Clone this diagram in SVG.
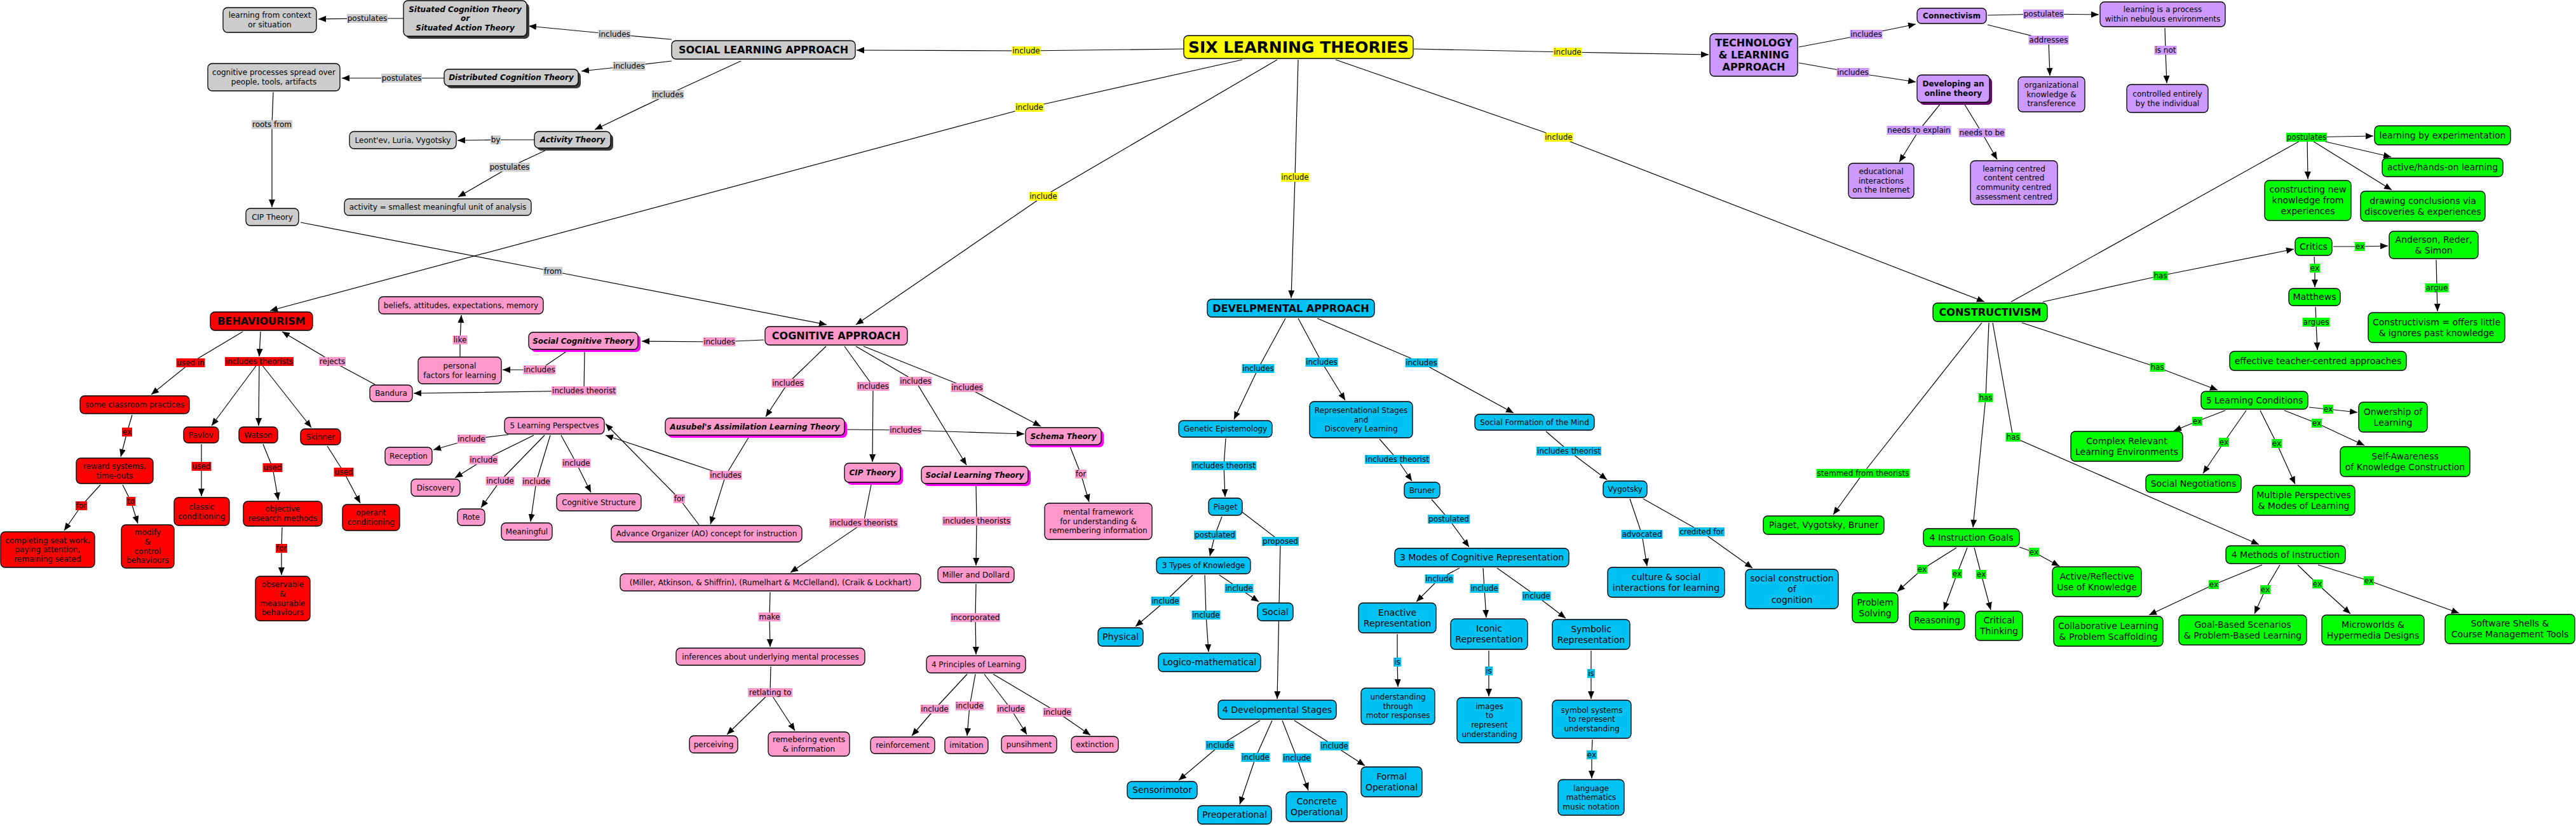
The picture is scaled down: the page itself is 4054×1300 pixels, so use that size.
<svg xmlns="http://www.w3.org/2000/svg" width="4054" height="1300" viewBox="0 0 4054 1300">
<defs>
<marker id="ar" viewBox="0 0 12 10" refX="12" refY="5" markerWidth="12" markerHeight="10" markerUnits="userSpaceOnUse" orient="auto"><path d="M0,0 L12,5 L0,10 z" fill="#000"/></marker>
<style>
text{font-family:"DejaVu Sans",Verdana,sans-serif;fill:#000;text-anchor:middle;font-size:12px}
.c path{fill:none;stroke:#000;stroke-width:1.2}
.c path.m{marker-end:url(#ar)}
.lb rect{stroke:none}
.node rect.b{stroke:#000;stroke-width:1.3}
.gy rect{fill:#cccccc}.yl rect{fill:#ffff00}.pu rect{fill:#cc99ff}.rd rect{fill:#ff0000}.pk rect{fill:#ff99cc}.bl rect{fill:#00c2f2}.gr rect{fill:#00ff00}
.node rect.sd{stroke:none}
.gy rect.sd{fill:#3a3a3a}.pu rect.sd{fill:#6a0a6a}.pk rect.sd{fill:#ff00ff}
.f14{font-size:14px}.b16{font-size:16px;font-weight:bold}.b12{font-weight:bold}.bi{font-weight:bold;font-style:italic}.b25{font-size:25px;font-weight:bold}
</style>
</defs>
<rect width="4054" height="1300" fill="#fff"/>
<g id="connectors" class="c">
<!-- grey -->
<path class="m" d="M635,29 L578,29 L501,30"/>
<path class="m" d="M1057,62 L967,54 L832,41"/>
<path class="m" d="M1057,96 L990,104 L915,112"/>
<path class="m" d="M1166,96 L1051,149 L936,204"/>
<path class="m" d="M699,123 L632,123 L538,123"/>
<path class="m" d="M430,145 L428,196 L428,326"/>
<path class="m" d="M841,220 L780,220 L720,221"/>
<path class="m" d="M862,235 L802,263 L721,310"/>
<path class="m" d="M473,350 L870,427 L1301,511"/>
<!-- yellow -->
<path class="m" d="M1863,77 L1615,80 L1348,79"/>
<path class="m" d="M1955,94 L1620,169 L425,489"/>
<path class="m" d="M2010,94 L1642,309 L1347,511"/>
<path class="m" d="M2225,77 L2467,82 L2689,86"/>
<path class="m" d="M2043,94 L2038,279 L2032,469"/>
<path class="m" d="M2102,94 L2453,216 L3123,475"/>
<!-- purple -->
<path class="m" d="M2831,74 L2937,54 L3015,38"/>
<path class="m" d="M2831,99 L2916,114 L3015,129"/>
<path class="m" d="M3128,24 L3216,22 L3303,23"/>
<path class="m" d="M3128,39 L3224,63 L3226,119"/>
<path class="m" d="M3407,44 L3408,79 L3410,131"/>
<path class="m" d="M3054,163 L3020,205 L2989,255"/>
<path class="m" d="M3091,163 L3119,209 L3143,251"/>
<!-- red -->
<path class="m" d="M382,522 L300,571 L238,621"/>
<path class="m" d="M410,522 L408,561"/>
<path class="m" d="M408,569 L333,670"/>
<path class="m" d="M408,569 L407,670"/>
<path class="m" d="M408,569 L490,673"/>
<path class="m" d="M590,605 L523,569 L444,522"/>
<path class="m" d="M208,653 L200,680 L190,719"/>
<path class="m" d="M158,763 L128,796 L101,835"/>
<path class="m" d="M193,763 L206,789 L217,824"/>
<path class="m" d="M317,699 L317,734 L317,781"/>
<path class="m" d="M414,699 L429,736 L438,787"/>
<path class="m" d="M515,702 L541,743 L567,792"/>
<path class="m" d="M444,830 L443,863 L443,905"/>
<!-- pink -->
<path class="m" d="M724,561 L724,535 L726,496"/>
<path class="m" d="M893,552 L849,582 L791,582"/>
<path class="m" d="M920,552 L919,615 L651,619"/>
<path class="m" d="M1202,535 L1132,538 L1010,537"/>
<path class="m" d="M1300,545 L1240,603 L1205,656"/>
<path class="m" d="M1329,545 L1374,608 L1373,727"/>
<path class="m" d="M1347,545 L1441,600 L1521,732"/>
<path class="m" d="M1359,545 L1522,610 L1638,671"/>
<path class="m" d="M1331,676 L1425,677 L1612,683"/>
<path d="M1179,687 L1142,748"/>
<path class="m" d="M1142,748 L1118,825"/>
<path class="m" d="M1142,748 L953,685"/>
<path class="m" d="M1100,826 L1069,785 L953,667"/>
<path class="m" d="M1684,703 L1701,746 L1714,790"/>
<path class="m" d="M1371,763 L1359,823 L1244,901"/>
<path class="m" d="M1536,764 L1537,820 L1536,890"/>
<path class="m" d="M1212,932 L1211,971 L1212,1018"/>
<path class="m" d="M1213,1049 L1212,1090 L1144,1156"/>
<path class="m" d="M1212,1090 L1251,1150"/>
<path class="m" d="M1536,919 L1535,972 L1536,1030"/>
<path class="m" d="M1522,1061 L1471,1116 L1435,1158"/>
<path class="m" d="M1535,1061 L1526,1111 L1522,1158"/>
<path class="m" d="M1549,1061 L1591,1116 L1616,1156"/>
<path class="m" d="M1563,1061 L1664,1121 L1716,1157"/>
<path class="m" d="M800,684 L742,691 L682,708"/>
<path class="m" d="M840,685 L761,724 L716,752"/>
<path class="m" d="M857,685 L787,757 L757,799"/>
<path class="m" d="M866,685 L844,758 L835,821"/>
<path class="m" d="M883,685 L907,729 L930,775"/>
<!-- blue -->
<path class="m" d="M2023,501 L1980,580 L1942,660"/>
<path class="m" d="M2043,501 L2080,570 L2117,630"/>
<path class="m" d="M2073,501 L2237,571 L2382,650"/>
<path class="m" d="M1929,690 L1926,733 L1928,782"/>
<path class="m" d="M2171,691 L2199,723 L2222,757"/>
<path class="m" d="M2433,679 L2469,710 L2529,755"/>
<path class="m" d="M1923,813 L1912,842 L1904,875"/>
<path class="m" d="M1955,806 L2015,852 L2010,1100"/>
<path class="m" d="M2253,786 L2280,817 L2312,861"/>
<path class="m" d="M2565,785 L2584,841 L2592,891"/>
<path class="m" d="M2586,785 L2678,837 L2758,894"/>
<path class="m" d="M1877,905 L1834,946 L1787,986"/>
<path class="m" d="M1896,905 L1898,968 L1902,1026"/>
<path class="m" d="M1919,905 L1950,926 L1981,947"/>
<path class="m" d="M1983,1134 L1920,1173 L1855,1228"/>
<path class="m" d="M2002,1134 L1976,1192 L1951,1266"/>
<path class="m" d="M2018,1134 L2041,1193 L2059,1244"/>
<path class="m" d="M2037,1134 L2100,1174 L2148,1205"/>
<path class="m" d="M2297,894 L2265,911 L2229,947"/>
<path class="m" d="M2334,894 L2336,926 L2339,972"/>
<path class="m" d="M2356,894 L2418,938 L2464,973"/>
<path class="m" d="M2199,998 L2199,1042 L2200,1081"/>
<path class="m" d="M2343,1024 L2343,1056 L2343,1096"/>
<path class="m" d="M2504,1024 L2504,1060 L2504,1100"/>
<path class="m" d="M2506,1164 L2505,1188 L2505,1225"/>
<!-- green -->
<path d="M3165,475 L3630,216"/>
<path class="m" d="M3630,216 L3735,214"/>
<path class="m" d="M3630,216 L3763,247"/>
<path class="m" d="M3631,216 L3632,282"/>
<path class="m" d="M3630,216 L3764,299"/>
<path class="m" d="M3215,475 L3400,434 L3610,392"/>
<path class="m" d="M3672,388 L3714,388 L3758,387"/>
<path class="m" d="M3642,404 L3643,422 L3643,452"/>
<path class="m" d="M3644,483 L3645,507 L3647,551"/>
<path class="m" d="M3834,409 L3835,453 L3836,490"/>
<path class="m" d="M3182,508 L3395,578 L3490,614"/>
<path class="m" d="M3130,508 L3125,626 L3105,830"/>
<path class="m" d="M3136,508 L3168,688 L3555,857"/>
<path class="m" d="M3119,508 L2932,745 L2885,810"/>
<path class="m" d="M3634,641 L3664,644 L3710,649"/>
<path class="m" d="M3502,646 L3458,663 L3421,678"/>
<path class="m" d="M3535,646 L3500,696 L3467,745"/>
<path class="m" d="M3557,646 L3583,698 L3612,762"/>
<path class="m" d="M3595,646 L3646,666 L3721,701"/>
<path class="m" d="M3178,861 L3201,869 L3241,891"/>
<path class="m" d="M3079,862 L3025,896 L2986,931"/>
<path class="m" d="M3096,862 L3080,903 L3059,960"/>
<path class="m" d="M3107,862 L3118,904 L3133,960"/>
<path class="m" d="M3560,889 L3484,920 L3382,968"/>
<path class="m" d="M3588,889 L3565,928 L3548,966"/>
<path class="m" d="M3616,889 L3647,919 L3699,966"/>
<path class="m" d="M3648,889 L3728,914 L3870,965"/>

<!-- linking phrases -->
<g class="lb gy">
<g transform="translate(578,29)"><rect x="-32" y="-7" width="64" height="14"/><text y="4.2">postulates</text></g>
<g transform="translate(967,54)"><rect x="-25.5" y="-7" width="51" height="14"/><text y="4.2">includes</text></g>
<g transform="translate(632,123)"><rect x="-32" y="-7" width="64" height="14"/><text y="4.2">postulates</text></g>
<g transform="translate(990,104)"><rect x="-25.5" y="-7" width="51" height="14"/><text y="4.2">includes</text></g>
<g transform="translate(428,196)"><rect x="-32" y="-7" width="64" height="14"/><text y="4.2">roots from</text></g>
<g transform="translate(780,220)"><rect x="-8" y="-7" width="16" height="14"/><text y="4.2">by</text></g>
<g transform="translate(802,263)"><rect x="-32" y="-7" width="64" height="14"/><text y="4.2">postulates</text></g>
<g transform="translate(870,427)"><rect x="-15" y="-7" width="30" height="14"/><text y="4.2">from</text></g>
<g transform="translate(1051,149)"><rect x="-25.5" y="-7" width="51" height="14"/><text y="4.2">includes</text></g>
</g>
<g class="lb yl">
<g transform="translate(1615,80)"><rect x="-22.5" y="-7" width="45" height="14"/><text y="4.2">include</text></g>
<g transform="translate(1620,169)"><rect x="-22.5" y="-7" width="45" height="14"/><text y="4.2">include</text></g>
<g transform="translate(1642,309)"><rect x="-22.5" y="-7" width="45" height="14"/><text y="4.2">include</text></g>
<g transform="translate(2467,82)"><rect x="-22.5" y="-7" width="45" height="14"/><text y="4.2">include</text></g>
<g transform="translate(2453,216)"><rect x="-22.5" y="-7" width="45" height="14"/><text y="4.2">include</text></g>
<g transform="translate(2038,279)"><rect x="-22.5" y="-7" width="45" height="14"/><text y="4.2">include</text></g>
</g>
<g class="lb pu">
<g transform="translate(2937,54)"><rect x="-25.5" y="-7" width="51" height="14"/><text y="4.2">includes</text></g>
<g transform="translate(2916,114)"><rect x="-25.5" y="-7" width="51" height="14"/><text y="4.2">includes</text></g>
<g transform="translate(3216,22)"><rect x="-32" y="-7" width="64" height="14"/><text y="4.2">postulates</text></g>
<g transform="translate(3224,63)"><rect x="-31.5" y="-7" width="63" height="14"/><text y="4.2">addresses</text></g>
<g transform="translate(3408,79)"><rect x="-17.5" y="-7" width="35" height="14"/><text y="4.2">is not</text></g>
<g transform="translate(3020,205)"><rect x="-50.5" y="-7" width="101" height="14"/><text y="4.2">needs to explain</text></g>
<g transform="translate(3119,209)"><rect x="-36.5" y="-7" width="73" height="14"/><text y="4.2">needs to be</text></g>
</g>
<g class="lb rd">
<g transform="translate(300,571)"><rect x="-22.5" y="-7" width="45" height="14"/><text y="4.2">used in</text></g>
<g transform="translate(408,569)"><rect x="-54" y="-7" width="108" height="14"/><text y="4.2">includes theorists</text></g>
<g transform="translate(200,680)"><rect x="-8" y="-7" width="16" height="14"/><text y="4.2">ex</text></g>
<g transform="translate(128,796)"><rect x="-9" y="-7" width="18" height="14"/><text y="4.2">for</text></g>
<g transform="translate(206,789)"><rect x="-7" y="-7" width="14" height="14"/><text y="4.2">to</text></g>
<g transform="translate(317,734)"><rect x="-15.5" y="-7" width="31" height="14"/><text y="4.2">used</text></g>
<g transform="translate(429,736)"><rect x="-15.5" y="-7" width="31" height="14"/><text y="4.2">used</text></g>
<g transform="translate(541,743)"><rect x="-15.5" y="-7" width="31" height="14"/><text y="4.2">used</text></g>
<g transform="translate(443,863)"><rect x="-9" y="-7" width="18" height="14"/><text y="4.2">for</text></g>
</g>
<g class="lb pk">
<g transform="translate(523,569)"><rect x="-21" y="-7" width="42" height="14"/><text y="4.2">rejects</text></g>
<g transform="translate(724,535)"><rect x="-11.5" y="-7" width="23" height="14"/><text y="4.2">like</text></g>
<g transform="translate(849,582)"><rect x="-25.5" y="-7" width="51" height="14"/><text y="4.2">includes</text></g>
<g transform="translate(919,615)"><rect x="-51" y="-7" width="102" height="14"/><text y="4.2">includes theorist</text></g>
<g transform="translate(1132,538)"><rect x="-25.5" y="-7" width="51" height="14"/><text y="4.2">includes</text></g>
<g transform="translate(1240,603)"><rect x="-25.5" y="-7" width="51" height="14"/><text y="4.2">includes</text></g>
<g transform="translate(1374,608)"><rect x="-25.5" y="-7" width="51" height="14"/><text y="4.2">includes</text></g>
<g transform="translate(1441,600)"><rect x="-25.5" y="-7" width="51" height="14"/><text y="4.2">includes</text></g>
<g transform="translate(1522,610)"><rect x="-25.5" y="-7" width="51" height="14"/><text y="4.2">includes</text></g>
<g transform="translate(1425,677)"><rect x="-25.5" y="-7" width="51" height="14"/><text y="4.2">includes</text></g>
<g transform="translate(1142,748)"><rect x="-25.5" y="-7" width="51" height="14"/><text y="4.2">includes</text></g>
<g transform="translate(1069,785)"><rect x="-9" y="-7" width="18" height="14"/><text y="4.2">for</text></g>
<g transform="translate(1701,746)"><rect x="-9" y="-7" width="18" height="14"/><text y="4.2">for</text></g>
<g transform="translate(1359,823)"><rect x="-54" y="-7" width="108" height="14"/><text y="4.2">includes theorists</text></g>
<g transform="translate(1537,820)"><rect x="-54" y="-7" width="108" height="14"/><text y="4.2">includes theorists</text></g>
<g transform="translate(1211,971)"><rect x="-17.5" y="-7" width="35" height="14"/><text y="4.2">make</text></g>
<g transform="translate(1212,1090)"><rect x="-35" y="-7" width="70" height="14"/><text y="4.2">retlating to</text></g>
<g transform="translate(1535,972)"><rect x="-39" y="-7" width="78" height="14"/><text y="4.2">incorporated</text></g>
<g transform="translate(1471,1116)"><rect x="-22.5" y="-7" width="45" height="14"/><text y="4.2">include</text></g>
<g transform="translate(1526,1111)"><rect x="-22.5" y="-7" width="45" height="14"/><text y="4.2">include</text></g>
<g transform="translate(1591,1116)"><rect x="-22.5" y="-7" width="45" height="14"/><text y="4.2">include</text></g>
<g transform="translate(1664,1121)"><rect x="-22.5" y="-7" width="45" height="14"/><text y="4.2">include</text></g>
<g transform="translate(742,691)"><rect x="-22.5" y="-7" width="45" height="14"/><text y="4.2">include</text></g>
<g transform="translate(761,724)"><rect x="-22.5" y="-7" width="45" height="14"/><text y="4.2">include</text></g>
<g transform="translate(787,757)"><rect x="-22.5" y="-7" width="45" height="14"/><text y="4.2">include</text></g>
<g transform="translate(844,758)"><rect x="-22.5" y="-7" width="45" height="14"/><text y="4.2">include</text></g>
<g transform="translate(907,729)"><rect x="-22.5" y="-7" width="45" height="14"/><text y="4.2">include</text></g>
</g>
<g class="lb bl">
<g transform="translate(1980,580)"><rect x="-25.5" y="-7" width="51" height="14"/><text y="4.2">includes</text></g>
<g transform="translate(2080,570)"><rect x="-25.5" y="-7" width="51" height="14"/><text y="4.2">includes</text></g>
<g transform="translate(2237,571)"><rect x="-25.5" y="-7" width="51" height="14"/><text y="4.2">includes</text></g>
<g transform="translate(1926,733)"><rect x="-51" y="-7" width="102" height="14"/><text y="4.2">includes theorist</text></g>
<g transform="translate(2199,723)"><rect x="-51" y="-7" width="102" height="14"/><text y="4.2">includes theorist</text></g>
<g transform="translate(2469,710)"><rect x="-51" y="-7" width="102" height="14"/><text y="4.2">includes theorist</text></g>
<g transform="translate(1912,842)"><rect x="-33" y="-7" width="66" height="14"/><text y="4.2">postulated</text></g>
<g transform="translate(2015,852)"><rect x="-29" y="-7" width="58" height="14"/><text y="4.2">proposed</text></g>
<g transform="translate(2280,817)"><rect x="-33" y="-7" width="66" height="14"/><text y="4.2">postulated</text></g>
<g transform="translate(2584,841)"><rect x="-32.5" y="-7" width="65" height="14"/><text y="4.2">advocated</text></g>
<g transform="translate(2678,837)"><rect x="-36" y="-7" width="72" height="14"/><text y="4.2">credited for</text></g>
<g transform="translate(1834,946)"><rect x="-22.5" y="-7" width="45" height="14"/><text y="4.2">include</text></g>
<g transform="translate(1898,968)"><rect x="-22.5" y="-7" width="45" height="14"/><text y="4.2">include</text></g>
<g transform="translate(1950,926)"><rect x="-22.5" y="-7" width="45" height="14"/><text y="4.2">include</text></g>
<g transform="translate(1920,1173)"><rect x="-22.5" y="-7" width="45" height="14"/><text y="4.2">include</text></g>
<g transform="translate(1976,1192)"><rect x="-22.5" y="-7" width="45" height="14"/><text y="4.2">include</text></g>
<g transform="translate(2041,1193)"><rect x="-22.5" y="-7" width="45" height="14"/><text y="4.2">include</text></g>
<g transform="translate(2100,1174)"><rect x="-22.5" y="-7" width="45" height="14"/><text y="4.2">include</text></g>
<g transform="translate(2265,911)"><rect x="-22.5" y="-7" width="45" height="14"/><text y="4.2">include</text></g>
<g transform="translate(2336,926)"><rect x="-22.5" y="-7" width="45" height="14"/><text y="4.2">include</text></g>
<g transform="translate(2418,938)"><rect x="-22.5" y="-7" width="45" height="14"/><text y="4.2">include</text></g>
<g transform="translate(2199,1042)"><rect x="-6" y="-7" width="12" height="14"/><text y="4.2">is</text></g>
<g transform="translate(2343,1056)"><rect x="-6" y="-7" width="12" height="14"/><text y="4.2">is</text></g>
<g transform="translate(2504,1060)"><rect x="-6" y="-7" width="12" height="14"/><text y="4.2">is</text></g>
<g transform="translate(2505,1188)"><rect x="-8" y="-7" width="16" height="14"/><text y="4.2">ex</text></g>
</g>
<g class="lb gr">
<g transform="translate(3630,216)"><rect x="-32" y="-7" width="64" height="14"/><text y="4.2">postulates</text></g>
<g transform="translate(3400,434)"><rect x="-11.5" y="-7" width="23" height="14"/><text y="4.2">has</text></g>
<g transform="translate(3714,388)"><rect x="-8" y="-7" width="16" height="14"/><text y="4.2">ex</text></g>
<g transform="translate(3643,422)"><rect x="-8" y="-7" width="16" height="14"/><text y="4.2">ex</text></g>
<g transform="translate(3645,507)"><rect x="-21.5" y="-7" width="43" height="14"/><text y="4.2">argues</text></g>
<g transform="translate(3835,453)"><rect x="-18.5" y="-7" width="37" height="14"/><text y="4.2">argue</text></g>
<g transform="translate(3395,578)"><rect x="-11.5" y="-7" width="23" height="14"/><text y="4.2">has</text></g>
<g transform="translate(3125,626)"><rect x="-11.5" y="-7" width="23" height="14"/><text y="4.2">has</text></g>
<g transform="translate(3168,688)"><rect x="-11.5" y="-7" width="23" height="14"/><text y="4.2">has</text></g>
<g transform="translate(2932,745)"><rect x="-73.5" y="-7" width="147" height="14"/><text y="4.2">stemmed from theorists</text></g>
<g transform="translate(3664,644)"><rect x="-8" y="-7" width="16" height="14"/><text y="4.2">ex</text></g>
<g transform="translate(3458,663)"><rect x="-8" y="-7" width="16" height="14"/><text y="4.2">ex</text></g>
<g transform="translate(3500,696)"><rect x="-8" y="-7" width="16" height="14"/><text y="4.2">ex</text></g>
<g transform="translate(3583,698)"><rect x="-8" y="-7" width="16" height="14"/><text y="4.2">ex</text></g>
<g transform="translate(3646,666)"><rect x="-8" y="-7" width="16" height="14"/><text y="4.2">ex</text></g>
<g transform="translate(3201,869)"><rect x="-8" y="-7" width="16" height="14"/><text y="4.2">ex</text></g>
<g transform="translate(3025,896)"><rect x="-8" y="-7" width="16" height="14"/><text y="4.2">ex</text></g>
<g transform="translate(3080,903)"><rect x="-8" y="-7" width="16" height="14"/><text y="4.2">ex</text></g>
<g transform="translate(3118,904)"><rect x="-8" y="-7" width="16" height="14"/><text y="4.2">ex</text></g>
<g transform="translate(3484,920)"><rect x="-8" y="-7" width="16" height="14"/><text y="4.2">ex</text></g>
<g transform="translate(3565,928)"><rect x="-8" y="-7" width="16" height="14"/><text y="4.2">ex</text></g>
<g transform="translate(3647,919)"><rect x="-8" y="-7" width="16" height="14"/><text y="4.2">ex</text></g>
<g transform="translate(3728,914)"><rect x="-8" y="-7" width="16" height="14"/><text y="4.2">ex</text></g>
</g>
</g>

<!-- nodes: grey -->
<g id="n-ctx" class="node gy"><rect class="b" x="351" y="12" width="147" height="39" rx="7"/><text x="424.5" y="28.4">learning from context<tspan x="424.5" dy="14.6">or situation</tspan></text></g>
<g id="n-situated" class="node gy"><rect class="sd" x="639" y="5" width="194" height="56" rx="7"/><rect class="b" x="635" y="1" width="194" height="56" rx="7"/><text class="bi" x="732" y="18.6">Situated Cognition Theory<tspan x="732" dy="14.6">or</tspan><tspan x="732" dy="14.6">Situated Action Theory</tspan></text></g>
<g id="n-cogproc" class="node gy"><rect class="b" x="327" y="100" width="208" height="43" rx="7"/><text x="431" y="118.4">cognitive processes spread over<tspan x="431" dy="14.6">people, tools, artifacts</tspan></text></g>
<g id="n-distributed" class="node gy"><rect class="sd" x="703" y="113" width="211" height="26" rx="7"/><rect class="b" x="699" y="109" width="211" height="26" rx="7"/><text class="bi" x="804.5" y="126.2">Distributed Cognition Theory</text></g>
<g id="n-sla" class="node gy"><rect class="b" x="1057" y="64" width="289" height="29" rx="7"/><text class="b16" x="1201.5" y="84.1">SOCIAL LEARNING APPROACH</text></g>
<g id="n-activity" class="node gy"><rect class="sd" x="845" y="211" width="120" height="26" rx="7"/><rect class="b" x="841" y="207" width="120" height="26" rx="7"/><text class="bi" x="901" y="224.2">Activity Theory</text></g>
<g id="n-leontev" class="node gy"><rect class="b" x="550" y="207" width="168" height="27" rx="7"/><text x="634" y="224.7">Leont'ev, Luria, Vygotsky</text></g>
<g id="n-actunit" class="node gy"><rect class="b" x="542" y="313" width="294" height="26" rx="7"/><text x="689" y="330.2">activity = smallest meaningful unit of analysis</text></g>
<g id="n-cip-grey" class="node gy"><rect class="b" x="387" y="328" width="83" height="27" rx="7"/><text x="428.5" y="345.7">CIP Theory</text></g>
<!-- yellow -->
<g id="n-six" class="node yl"><rect class="b" x="1863" y="56" width="361" height="36" rx="7"/><text class="b25" x="2043.5" y="82.8">SIX LEARNING THEORIES</text></g>
<!-- purple -->
<g id="n-tech" class="node pu"><rect class="b" x="2691" y="53" width="138" height="67" rx="7"/><text class="b16" x="2760" y="72.8">TECHNOLOGY<tspan x="2760" dy="19.3">&amp; LEARNING</tspan><tspan x="2760" dy="19.3">APPROACH</tspan></text></g>
<g id="n-connectivism" class="node pu"><rect class="b" x="3017" y="13" width="109" height="24" rx="7"/><text class="b12" x="3071.5" y="29.2">Connectivism</text></g>
<g id="n-learnproc" class="node pu"><rect class="b" x="3305" y="3" width="197" height="39" rx="7"/><text x="3403.5" y="19.4">learning is a process<tspan x="3403.5" dy="14.6">within nebulous environments</tspan></text></g>
<g id="n-org" class="node pu"><rect class="b" x="3176" y="121" width="105" height="55" rx="7"/><text x="3228.5" y="138.1">organizational<tspan x="3228.5" dy="14.6">knowledge &amp;</tspan><tspan x="3228.5" dy="14.6">transference</tspan></text></g>
<g id="n-controlled" class="node pu"><rect class="b" x="3347" y="133" width="128" height="44" rx="7"/><text x="3411" y="151.9">controlled entirely<tspan x="3411" dy="14.6">by the individual</tspan></text></g>
<g id="n-online" class="node pu"><rect class="sd" x="3021" y="122" width="114" height="43" rx="7"/><rect class="b" x="3017" y="118" width="114" height="43" rx="7"/><text class="b12" x="3074" y="136.4">Developing an<tspan x="3074" dy="14.6">online theory</tspan></text></g>
<g id="n-eduint" class="node pu"><rect class="b" x="2909" y="257" width="103" height="55" rx="7"/><text x="2960.5" y="274.1">educational<tspan x="2960.5" dy="14.6">interactions</tspan><tspan x="2960.5" dy="14.6">on the Internet</tspan></text></g>
<g id="n-centred" class="node pu"><rect class="b" x="3101" y="253" width="137" height="69" rx="7"/><text x="3169.5" y="269.8">learning centred<tspan x="3169.5" dy="14.6">content centred</tspan><tspan x="3169.5" dy="14.6">community centred</tspan><tspan x="3169.5" dy="14.6">assessment centred</tspan></text></g>
<!-- red -->
<g id="n-beh" class="node rd"><rect class="b" x="331" y="491" width="161" height="29" rx="7"/><text class="b16" x="411.5" y="511.1">BEHAVIOURISM</text></g>
<g id="n-classroom" class="node rd"><rect class="b" x="126" y="623" width="172" height="28" rx="7"/><text x="212" y="641.2">some classroom practices</text></g>
<g id="n-pavlov" class="node rd"><rect class="b" x="289" y="672" width="55" height="25" rx="7"/><text x="316.5" y="688.7">Pavlov</text></g>
<g id="n-watson" class="node rd"><rect class="b" x="376" y="672" width="61" height="25" rx="7"/><text x="406.5" y="688.7">Watson</text></g>
<g id="n-skinner" class="node rd"><rect class="b" x="473" y="675" width="63" height="25" rx="7"/><text x="504.5" y="691.7">Skinner</text></g>
<g id="n-reward" class="node rd"><rect class="b" x="120" y="721" width="121" height="40" rx="7"/><text x="180.5" y="737.9">reward systems,<tspan x="180.5" dy="14.6">time-outs</tspan></text></g>
<g id="n-completing" class="node rd"><rect class="b" x="1" y="837" width="148" height="56" rx="7"/><text x="75" y="854.6">completing seat work,<tspan x="75" dy="14.6">paying attention,</tspan><tspan x="75" dy="14.6">remaining seated</tspan></text></g>
<g id="n-modify" class="node rd"><rect class="b" x="191" y="826" width="83" height="68" rx="7"/><text x="232.5" y="842.3">modify<tspan x="232.5" dy="14.6">&amp;</tspan><tspan x="232.5" dy="14.6">control</tspan><tspan x="232.5" dy="14.6">behaviours</tspan></text></g>
<g id="n-classic" class="node rd"><rect class="b" x="274" y="783" width="87" height="44" rx="7"/><text x="317.5" y="801.9">classic<tspan x="317.5" dy="14.6">conditioning</tspan></text></g>
<g id="n-objective" class="node rd"><rect class="b" x="383" y="789" width="124" height="39" rx="7"/><text x="445" y="805.4">objective<tspan x="445" dy="14.6">research methods</tspan></text></g>
<g id="n-operant" class="node rd"><rect class="b" x="539" y="794" width="90" height="41" rx="7"/><text x="584" y="811.4">operant<tspan x="584" dy="14.6">conditioning</tspan></text></g>
<g id="n-observable" class="node rd"><rect class="b" x="402" y="907" width="86" height="70" rx="7"/><text x="445" y="924.3">observable<tspan x="445" dy="14.6">&amp;</tspan><tspan x="445" dy="14.6">measurable</tspan><tspan x="445" dy="14.6">behaviours</tspan></text></g>
<!-- pink -->
<g id="n-beliefs" class="node pk"><rect class="b" x="596" y="467" width="259" height="27" rx="7"/><text x="725.5" y="484.7">beliefs, attitudes, expectations, memory</text></g>
<g id="n-personal" class="node pk"><rect class="b" x="658" y="562" width="131" height="42" rx="7"/><text x="723.5" y="579.9">personal<tspan x="723.5" dy="14.6">factors for learning</tspan></text></g>
<g id="n-sct" class="node pk"><rect class="sd" x="836" y="527" width="172" height="27" rx="7"/><rect class="b" x="832" y="523" width="172" height="27" rx="7"/><text class="bi" x="918" y="540.7">Social Cognitive Theory</text></g>
<g id="n-bandura" class="node pk"><rect class="b" x="582" y="606" width="67" height="26" rx="7"/><text x="615.5" y="623.2">Bandura</text></g>
<g id="n-lp5" class="node pk"><rect class="b" x="794" y="657" width="157" height="26" rx="7"/><text x="872.5" y="674.2">5 Learning Perspectves</text></g>
<g id="n-reception" class="node pk"><rect class="b" x="606" y="704" width="74" height="28" rx="7"/><text x="643" y="722.2">Reception</text></g>
<g id="n-discovery" class="node pk"><rect class="b" x="647" y="754" width="77" height="27" rx="7"/><text x="685.5" y="771.7">Discovery</text></g>
<g id="n-rote" class="node pk"><rect class="b" x="720" y="801" width="43" height="26" rx="7"/><text x="741.5" y="818.2">Rote</text></g>
<g id="n-meaningful" class="node pk"><rect class="b" x="789" y="823" width="80" height="27" rx="7"/><text x="829" y="840.7">Meaningful</text></g>
<g id="n-cogstruct" class="node pk"><rect class="b" x="876" y="777" width="133" height="27" rx="7"/><text x="942.5" y="794.7">Cognitive Structure</text></g>
<g id="n-ao" class="node pk"><rect class="b" x="962" y="827" width="300" height="26" rx="7"/><text x="1112" y="844.2">Advance Organizer (AO) concept for instruction</text></g>
<g id="n-cog" class="node pk"><rect class="b" x="1204" y="514" width="224" height="29" rx="7"/><text class="b16" x="1316" y="534.1">COGNITIVE APPROACH</text></g>
<g id="n-ausubel" class="node pk"><rect class="sd" x="1051" y="662" width="282" height="27" rx="7"/><rect class="b" x="1047" y="658" width="282" height="27" rx="7"/><text class="bi" x="1188" y="675.7">Ausubel's Assimilation Learning Theory</text></g>
<g id="n-cip" class="node pk"><rect class="sd" x="1333" y="733" width="88" height="30" rx="7"/><rect class="b" x="1329" y="729" width="88" height="30" rx="7"/><text class="bi" x="1373" y="748.2">CIP Theory</text></g>
<g id="n-slt" class="node pk"><rect class="sd" x="1454" y="738" width="168" height="27" rx="7"/><rect class="b" x="1450" y="734" width="168" height="27" rx="7"/><text class="bi" x="1534" y="751.7">Social Learning Theory</text></g>
<g id="n-schema" class="node pk"><rect class="sd" x="1618" y="677" width="119" height="27" rx="7"/><rect class="b" x="1614" y="673" width="119" height="27" rx="7"/><text class="bi" x="1673.5" y="690.7">Schema Theory</text></g>
<g id="n-mental" class="node pk"><rect class="b" x="1644" y="792" width="169" height="57" rx="7"/><text x="1728.5" y="810.1">mental framework<tspan x="1728.5" dy="14.6">for understanding &amp;</tspan><tspan x="1728.5" dy="14.6">remembering information</tspan></text></g>
<g id="n-miller" class="node pk"><rect class="b" x="976" y="903" width="473" height="27" rx="7"/><text x="1212.5" y="920.7">(Miller, Atkinson, &amp; Shiffrin), (Rumelhart &amp; McClelland), (Craik &amp; Lockhart)</text></g>
<g id="n-inferences" class="node pk"><rect class="b" x="1064" y="1020" width="297" height="27" rx="7"/><text x="1212.5" y="1037.7">inferences about underlying mental processes</text></g>
<g id="n-perceiving" class="node pk"><rect class="b" x="1085" y="1158" width="76" height="27" rx="7"/><text x="1123" y="1175.7">perceiving</text></g>
<g id="n-remebering" class="node pk"><rect class="b" x="1209" y="1152" width="128" height="38" rx="7"/><text x="1273" y="1167.9">remebering events<tspan x="1273" dy="14.6">&amp; information</tspan></text></g>
<g id="n-dollard" class="node pk"><rect class="b" x="1476" y="892" width="120" height="25" rx="7"/><text x="1536" y="908.7">Miller and Dollard</text></g>
<g id="n-principles" class="node pk"><rect class="b" x="1458" y="1032" width="156" height="27" rx="7"/><text x="1536" y="1049.7">4 Principles of Learning</text></g>
<g id="n-reinforcement" class="node pk"><rect class="b" x="1370" y="1160" width="101" height="26" rx="7"/><text x="1420.5" y="1177.2">reinforcement</text></g>
<g id="n-imitation" class="node pk"><rect class="b" x="1487" y="1160" width="68" height="26" rx="7"/><text x="1521" y="1177.2">imitation</text></g>
<g id="n-punsihment" class="node pk"><rect class="b" x="1576" y="1158" width="87" height="27" rx="7"/><text x="1619.5" y="1175.7">punsihment</text></g>
<g id="n-extinction" class="node pk"><rect class="b" x="1686" y="1159" width="74" height="25" rx="7"/><text x="1723" y="1175.7">extinction</text></g>
<!-- blue -->
<g id="n-dev" class="node bl"><rect class="b" x="1900" y="471" width="263" height="28" rx="7"/><text class="b16" x="2031.5" y="490.6">DEVELPMENTAL APPROACH</text></g>
<g id="n-genetic" class="node bl"><rect class="b" x="1855" y="662" width="147" height="26" rx="7"/><text x="1928.5" y="679.2">Genetic Epistemology</text></g>
<g id="n-repstages" class="node bl"><rect class="b" x="2061" y="632" width="162" height="57" rx="7"/><text x="2142" y="650.1">Representational Stages<tspan x="2142" dy="14.6">and</tspan><tspan x="2142" dy="14.6">Discovery Learning</tspan></text></g>
<g id="n-socform" class="node bl"><rect class="b" x="2321" y="652" width="188" height="25" rx="7"/><text x="2415" y="668.7">Social Formation of the Mind</text></g>
<g id="n-piaget" class="node bl"><rect class="b" x="1902" y="784" width="53" height="27" rx="7"/><text x="1928.5" y="801.7">Piaget</text></g>
<g id="n-bruner" class="node bl"><rect class="b" x="2210" y="759" width="56" height="25" rx="7"/><text x="2238" y="775.7">Bruner</text></g>
<g id="n-vygotsky" class="node bl"><rect class="b" x="2523" y="757" width="69" height="26" rx="7"/><text x="2557.5" y="774.2">Vygotsky</text></g>
<g id="n-types3" class="node bl"><rect class="b" x="1820" y="877" width="148" height="26" rx="7"/><text x="1894" y="894.2">3 Types of Knowledge</text></g>
<g id="n-physical" class="node bl"><rect class="b" x="1728" y="988" width="71" height="29" rx="7"/><text class="f14" x="1763.5" y="1007.4">Physical</text></g>
<g id="n-logico" class="node bl"><rect class="b" x="1823" y="1028" width="161" height="29" rx="7"/><text class="f14" x="1903.5" y="1047.4">Logico-mathematical</text></g>
<g id="n-social" class="node bl"><rect class="b" x="1979" y="949" width="56" height="28" rx="7"/><text class="f14" x="2007" y="967.9">Social</text></g>
<g id="n-ds4" class="node bl"><rect class="b" x="1917" y="1102" width="186" height="30" rx="7"/><text class="f14" x="2010" y="1121.9">4 Developmental Stages</text></g>
<g id="n-sensorimotor" class="node bl"><rect class="b" x="1774" y="1230" width="110" height="27" rx="7"/><text class="f14" x="1829" y="1248.4">Sensorimotor</text></g>
<g id="n-preop" class="node bl"><rect class="b" x="1885" y="1268" width="116" height="29" rx="7"/><text class="f14" x="1943" y="1287.4">Preoperational</text></g>
<g id="n-concrete" class="node bl"><rect class="b" x="2024" y="1246" width="96" height="47" rx="7"/><text class="f14" x="2072" y="1265.9">Concrete<tspan x="2072" dy="17">Operational</tspan></text></g>
<g id="n-formal" class="node bl"><rect class="b" x="2142" y="1207" width="96" height="47" rx="7"/><text class="f14" x="2190" y="1226.9">Formal<tspan x="2190" dy="17">Operational</tspan></text></g>
<g id="n-modes3" class="node bl"><rect class="b" x="2195" y="863" width="274" height="29" rx="7"/><text class="f14" x="2332" y="882.4">3 Modes of Cognitive Representation</text></g>
<g id="n-enactive" class="node bl"><rect class="b" x="2138" y="949" width="122" height="47" rx="7"/><text class="f14" x="2199" y="968.9">Enactive<tspan x="2199" dy="17">Representation</tspan></text></g>
<g id="n-iconic" class="node bl"><rect class="b" x="2283" y="974" width="121" height="48" rx="7"/><text class="f14" x="2343.5" y="994.4">Iconic<tspan x="2343.5" dy="17">Representation</tspan></text></g>
<g id="n-symbolic" class="node bl"><rect class="b" x="2443" y="975" width="122" height="47" rx="7"/><text class="f14" x="2504" y="994.9">Symbolic<tspan x="2504" dy="17">Representation</tspan></text></g>
<g id="n-understanding" class="node bl"><rect class="b" x="2142" y="1083" width="116" height="57" rx="7"/><text x="2200" y="1101.1">understanding<tspan x="2200" dy="14.6">through</tspan><tspan x="2200" dy="14.6">motor responses</tspan></text></g>
<g id="n-images" class="node bl"><rect class="b" x="2293" y="1098" width="102" height="71" rx="7"/><text x="2344" y="1115.8">images<tspan x="2344" dy="14.6">to</tspan><tspan x="2344" dy="14.6">represent</tspan><tspan x="2344" dy="14.6">understanding</tspan></text></g>
<g id="n-symsys" class="node bl"><rect class="b" x="2443" y="1102" width="124" height="60" rx="7"/><text x="2505" y="1121.6">symbol systems<tspan x="2505" dy="14.6">to represent</tspan><tspan x="2505" dy="14.6">understanding</tspan></text></g>
<g id="n-language" class="node bl"><rect class="b" x="2452" y="1227" width="104" height="56" rx="7"/><text x="2504" y="1244.6">language<tspan x="2504" dy="14.6">mathematics</tspan><tspan x="2504" dy="14.6">music notation</tspan></text></g>
<g id="n-culture" class="node bl"><rect class="b" x="2530" y="893" width="184" height="47" rx="7"/><text class="f14" x="2622" y="912.9">culture &amp; social<tspan x="2622" dy="17">interactions for learning</tspan></text></g>
<g id="n-socconst" class="node bl"><rect class="b" x="2747" y="896" width="146" height="62" rx="7"/><text class="f14" x="2820" y="914.9">social construction<tspan x="2820" dy="17">of</tspan><tspan x="2820" dy="17">cognition</tspan></text></g>
<!-- green -->
<g id="n-cons" class="node gr"><rect class="b" x="3042" y="477" width="180" height="29" rx="7"/><text class="b16" x="3132" y="497.1">CONSTRUCTIVISM</text></g>
<g id="n-learnexp" class="node gr"><rect class="b" x="3737" y="198" width="214" height="30" rx="7"/><text class="f14" x="3844" y="217.9">learning by experimentation</text></g>
<g id="n-handson" class="node gr"><rect class="b" x="3749" y="249" width="190" height="29" rx="7"/><text class="f14" x="3844" y="268.4">active/hands-on learning</text></g>
<g id="n-constructing" class="node gr"><rect class="b" x="3564" y="284" width="136" height="63" rx="7"/><text class="f14" x="3632" y="303.4">constructing new<tspan x="3632" dy="17">knowledge from</tspan><tspan x="3632" dy="17">experiences</tspan></text></g>
<g id="n-drawing" class="node gr"><rect class="b" x="3715" y="301" width="196" height="47" rx="7"/><text class="f14" x="3813" y="320.9">drawing conclusions via<tspan x="3813" dy="17">discoveries &amp; experiences</tspan></text></g>
<g id="n-critics" class="node gr"><rect class="b" x="3612" y="374" width="58" height="28" rx="7"/><text class="f14" x="3641" y="392.9">Critics</text></g>
<g id="n-anderson" class="node gr"><rect class="b" x="3760" y="364" width="140" height="43" rx="7"/><text class="f14" x="3830" y="381.9">Anderson, Reder,<tspan x="3830" dy="17">&amp; Simon</tspan></text></g>
<g id="n-matthews" class="node gr"><rect class="b" x="3602" y="454" width="81" height="27" rx="7"/><text class="f14" x="3642.5" y="472.4">Matthews</text></g>
<g id="n-offers" class="node gr"><rect class="b" x="3727" y="492" width="215" height="47" rx="7"/><text class="f14" x="3834.5" y="511.9">Constructivism = offers little<tspan x="3834.5" dy="17">&amp; ignores past knowledge</tspan></text></g>
<g id="n-effective" class="node gr"><rect class="b" x="3509" y="553" width="278" height="30" rx="7"/><text class="f14" x="3648" y="572.9">effective teacher-centred approaches</text></g>
<g id="n-lc5" class="node gr"><rect class="b" x="3464" y="616" width="168" height="28" rx="7"/><text class="f14" x="3548" y="634.9">5 Learning Conditions</text></g>
<g id="n-ownership" class="node gr"><rect class="b" x="3712" y="633" width="108" height="47" rx="7"/><text class="f14" x="3766" y="652.9">Onwership of<tspan x="3766" dy="17">Learning</tspan></text></g>
<g id="n-complex" class="node gr"><rect class="b" x="3259" y="679" width="176" height="47" rx="7"/><text class="f14" x="3347" y="698.9">Complex Relevant<tspan x="3347" dy="17">Learning Environments</tspan></text></g>
<g id="n-socneg" class="node gr"><rect class="b" x="3377" y="747" width="150" height="28" rx="7"/><text class="f14" x="3452" y="765.9">Social Negotiations</text></g>
<g id="n-multiple" class="node gr"><rect class="b" x="3545" y="764" width="161" height="47" rx="7"/><text class="f14" x="3625.5" y="783.9">Multiple Perspectives<tspan x="3625.5" dy="17">&amp; Modes of Learning</tspan></text></g>
<g id="n-selfaw" class="node gr"><rect class="b" x="3683" y="703" width="204" height="47" rx="7"/><text class="f14" x="3785" y="722.9">Self-Awareness<tspan x="3785" dy="17">of Knowledge Construction</tspan></text></g>
<g id="n-pvb" class="node gr"><rect class="b" x="2775" y="812" width="190" height="29" rx="7"/><text class="f14" x="2870" y="831.4">Piaget, Vygotsky, Bruner</text></g>
<g id="n-ig4" class="node gr"><rect class="b" x="3027" y="832" width="151" height="28" rx="7"/><text class="f14" x="3102.5" y="850.9">4 Instruction Goals</text></g>
<g id="n-problem" class="node gr"><rect class="b" x="2915" y="933" width="72" height="47" rx="7"/><text class="f14" x="2951" y="952.9">Problem<tspan x="2951" dy="17">Solving</tspan></text></g>
<g id="n-reasoning" class="node gr"><rect class="b" x="3005" y="962" width="87" height="29" rx="7"/><text class="f14" x="3048.5" y="981.4">Reasoning</text></g>
<g id="n-critical" class="node gr"><rect class="b" x="3109" y="962" width="74" height="46" rx="7"/><text class="f14" x="3146" y="981.4">Critical<tspan x="3146" dy="17">Thinking</tspan></text></g>
<g id="n-activeref" class="node gr"><rect class="b" x="3230" y="892" width="140" height="47" rx="7"/><text class="f14" x="3300" y="911.9">Active/Reflective<tspan x="3300" dy="17">Use of Knowledge</tspan></text></g>
<g id="n-mi4" class="node gr"><rect class="b" x="3503" y="859" width="188" height="28" rx="7"/><text class="f14" x="3597" y="877.9">4 Methods of Instruction</text></g>
<g id="n-collab" class="node gr"><rect class="b" x="3232" y="970" width="172" height="47" rx="7"/><text class="f14" x="3318" y="989.9">Collaborative Learning<tspan x="3318" dy="17">&amp; Problem Scaffolding</tspan></text></g>
<g id="n-goal" class="node gr"><rect class="b" x="3429" y="968" width="201" height="47" rx="7"/><text class="f14" x="3529.5" y="987.9">Goal-Based Scenarios<tspan x="3529.5" dy="17">&amp; Problem-Based Learning</tspan></text></g>
<g id="n-micro" class="node gr"><rect class="b" x="3654" y="968" width="161" height="47" rx="7"/><text class="f14" x="3734.5" y="987.9">Microworlds &amp;<tspan x="3734.5" dy="17">Hypermedia Designs</tspan></text></g>
<g id="n-software" class="node gr"><rect class="b" x="3848" y="967" width="204" height="46" rx="7"/><text class="f14" x="3950" y="986.4">Software Shells &amp;<tspan x="3950" dy="17">Course Management Tools</tspan></text></g>
</svg>
